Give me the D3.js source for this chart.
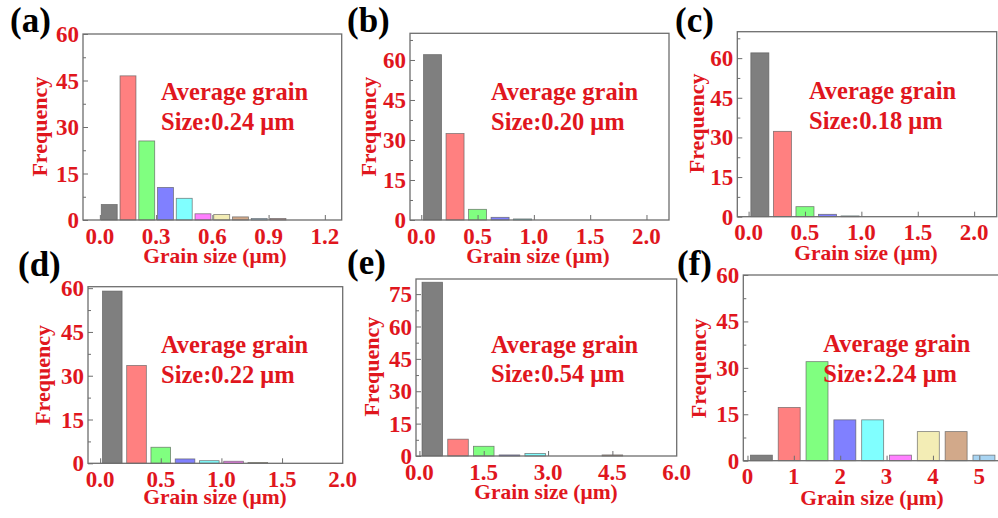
<!DOCTYPE html>
<html>
<head>
<meta charset="utf-8">
<script src="https://cdn.jsdelivr.net/npm/d3@7"></script>
<style>
  html, body { margin: 0; padding: 0; background: #fff; }
  svg { display: block; }
  text { font-family: "Liberation Serif", "Times New Roman", serif; font-weight: bold; }
</style>
</head>
<body>
<svg id="fig" width="998" height="518"></svg>
<script>
// ---- Grain size distributions (bin centres in µm, frequency counts) ----
const panelLetters = ["(a)", "(b)", "(c)", "(d)", "(e)", "(f)"];
const averageSizes = ["0.24", "0.20", "0.18", "0.22", "0.54", "2.24"];

const binsA = [0.05, 0.15, 0.25, 0.35, 0.45, 0.55, 0.65, 0.75, 0.85, 0.95];
const freqA = [5, 46.5, 25.5, 10.5, 7, 2, 1.8, 1, 0.5, 0.5];

const binsB = [0.1, 0.3, 0.5, 0.7, 0.9];
const freqB = [62, 32.4, 4, 1, 0.4];

const binsC = [0.1, 0.3, 0.5, 0.7, 0.9];
const freqC = [62, 32.3, 3.8, 0.9, 0.3];

const binsD = [0.1, 0.3, 0.5, 0.7, 0.9, 1.1, 1.3];
const freqD = [59, 33.5, 5.5, 1.5, 0.9, 0.7, 0.3];

const binsE = [0.3, 0.9, 1.5, 2.1, 2.7, 3.3, 3.9, 4.5];
const freqE = [80.5, 7.8, 4.5, 0.5, 1.2, 0, 0, 0.5];

const binsF = [0.3, 0.9, 1.5, 2.1, 2.7, 3.3, 3.9, 4.5, 5.1];
const freqF = [1.8, 17.2, 32, 13.2, 13.2, 1.8, 9.4, 9.4, 1.8];

const binWidths = [0.1, 0.2, 0.2, 0.2, 0.6, 0.6];

// tick values
const xTicksA = [0, 0.3, 0.6, 0.9, 1.2];
const xTicksBCD = [0, 0.5, 1.0, 1.5, 2.0];
const xTicksE = [0, 1.5, 3.0, 4.5, 6.0];
const xTicksF = [0, 1, 2, 3, 4, 5];
const yTicks60 = [0, 15, 30, 45, 60];
const yTicks75 = [0, 15, 30, 45, 60, 75];

// axis ranges
const xDomains = [[-0.09, 1.29], [-0.1, 2.2], [-0.1, 2.2], [-0.1, 2.0], [-0.08, 6.0], [-0.09, 5.5]];
const yDomains = [[0, 60], [0, 70], [0, 70], [0, 60.5], [0, 82], [0, 60]];

// ---- styling ----
const RED = "#e0161d";
const barColors = ["#7f7f7f", "#ff8080", "#80ff80", "#8080ff", "#80ffff",
                   "#ff80ff", "#f3edb5", "#d2a98a", "#a8d4f2", "#c89a9a"];

// plot frames and text anchors for each panel
const layout = [
  { l: 83,    r: 341.7, t: 34,    b: 220,   fill: 0.85, letter: [10, 31.5],   ann: [161, 100],   freq: [47, 126.7],  title: [215, 263] },
  { l: 410,   r: 669,   t: 33.3,  b: 220,   fill: 0.8,  letter: [347, 31.5],  ann: [491, 100],   freq: [376, 126.7], title: [538, 263] },
  { l: 737.3, r: 996.7, t: 31.7,  b: 216.7, fill: 0.8,  letter: [675, 31.5],  ann: [809, 99.3],  freq: [704, 123.3], title: [866, 260] },
  { l: 88,    r: 342.7, t: 286.7, b: 463.3, fill: 0.81, letter: [18, 276],    ann: [161, 353.3], freq: [50, 375],    title: [215, 504] },
  { l: 416,   r: 676.7, t: 279,   b: 456,   fill: 0.8,  letter: [347, 274],   ann: [491, 352.7], freq: [379, 366.7], title: [546, 499] },
  { l: 743.3, r: 1002.5,t: 275,   b: 460.7, fill: 0.79, letter: [677, 275],   ann: [823.3, 352.3], freq: [706, 368.3], title: [872, 505] }
];

const panels = [
  { bins: binsA, freq: freqA, xTicks: xTicksA,   xFmt: d3.format(".1f"), yTicks: yTicks60 },
  { bins: binsB, freq: freqB, xTicks: xTicksBCD, xFmt: d3.format(".1f"), yTicks: yTicks60 },
  { bins: binsC, freq: freqC, xTicks: xTicksBCD, xFmt: d3.format(".1f"), yTicks: yTicks60 },
  { bins: binsD, freq: freqD, xTicks: xTicksBCD, xFmt: d3.format(".1f"), yTicks: yTicks60 },
  { bins: binsE, freq: freqE, xTicks: xTicksE,   xFmt: d3.format(".1f"), yTicks: yTicks75 },
  { bins: binsF, freq: freqF, xTicks: xTicksF,   xFmt: d3.format("d"),   yTicks: yTicks60 }
];

const svg = d3.select("#fig");

panels.forEach((p, i) => {
  const L = layout[i];
  const x = d3.scaleLinear().domain(xDomains[i]).range([L.l, L.r]);
  const y = d3.scaleLinear().domain(yDomains[i]).range([L.b, L.t]);
  const g = svg.append("g");

  // bars
  const bw = binWidths[i];
  const rows = p.bins.map((c, k) => ({ c, v: p.freq[k], k })).filter(d => d.v > 0);
  g.selectAll("rect.bar").data(rows).join("rect")
    .attr("class", "bar")
    .attr("x", d => x(d.c - bw * L.fill / 2))
    .attr("width", d => x(d.c + bw * L.fill / 2) - x(d.c - bw * L.fill / 2))
    .attr("y", d => y(d.v))
    .attr("height", d => y(0) - y(d.v))
    .attr("fill", d => barColors[d.k % barColors.length])
    .attr("stroke", "#5a5a5a")
    .attr("stroke-opacity", 0.75)
    .attr("stroke-width", 0.8);

  // frame
  g.append("rect")
    .attr("x", L.l).attr("y", L.t)
    .attr("width", L.r - L.l).attr("height", L.b - L.t)
    .attr("fill", "none").attr("stroke", "#6e6e6e").attr("stroke-width", 1.3);

  // left axis: inward ticks with minor ticks midway
  const yStep = p.yTicks[1] - p.yTicks[0];
  const yMinor = d3.range(yStep / 2, yDomains[i][1], yStep).filter(v => !p.yTicks.includes(v));
  const yAxis = d3.axisRight(y).tickValues(p.yTicks).tickSize(5).tickFormat("");
  const yAxisMinor = d3.axisRight(y).tickValues(yMinor).tickSize(3).tickFormat("");
  [yAxis, yAxisMinor].forEach(ax => {
    const a = g.append("g").attr("transform", `translate(${L.l},0)`).call(ax);
    a.select(".domain").remove();
    a.selectAll("line").attr("stroke", "#6e6e6e");
  });

  // bottom axis: inward ticks
  const xAxis = d3.axisTop(x).tickValues(p.xTicks.filter(v => x(v) < L.r - 1)).tickSize(5).tickFormat("");
  const xa = g.append("g").attr("transform", `translate(0,${L.b})`).call(xAxis);
  xa.select(".domain").remove();
  xa.selectAll("line").attr("stroke", "#6e6e6e");

  // y tick labels
  g.selectAll("text.ylab").data(p.yTicks).join("text")
    .attr("class", "ylab")
    .attr("x", L.l - 4)
    .attr("y", d => y(d))
    .attr("dy", "0.35em")
    .attr("text-anchor", "end")
    .attr("fill", RED)
    .attr("font-size", 23)
    .text(d => d);

  // x tick labels
  g.selectAll("text.xlab").data(p.xTicks).join("text")
    .attr("class", "xlab")
    .attr("x", d => x(d))
    .attr("y", L.b + 23.5)
    .attr("text-anchor", "middle")
    .attr("fill", RED)
    .attr("font-size", 23)
    .text(d => p.xFmt(d));

  // axis titles
  g.append("text")
    .attr("transform", `translate(${L.freq[0]},${L.freq[1]}) rotate(-90)`)
    .attr("text-anchor", "middle")
    .attr("fill", RED)
    .attr("font-size", 22)
    .text("Frequency");

  g.append("text")
    .attr("x", L.title[0]).attr("y", L.title[1])
    .attr("text-anchor", "middle")
    .attr("fill", RED)
    .attr("font-size", 21.5)
    .text("Grain size (\u03bcm)");

  // average grain size annotation
  g.append("text")
    .attr("x", L.ann[0]).attr("y", L.ann[1])
    .attr("fill", RED)
    .attr("font-size", 24.5)
    .text("Average grain");
  g.append("text")
    .attr("x", L.ann[0]).attr("y", L.ann[1] + 29.5)
    .attr("fill", RED)
    .attr("font-size", 24.5)
    .text(`Size:${averageSizes[i]} \u03bcm`);

  // panel letter
  g.append("text")
    .attr("x", L.letter[0]).attr("y", L.letter[1])
    .attr("fill", "#000")
    .attr("font-size", 35)
    .text(panelLetters[i]);
});
</script>
</body>
</html>
